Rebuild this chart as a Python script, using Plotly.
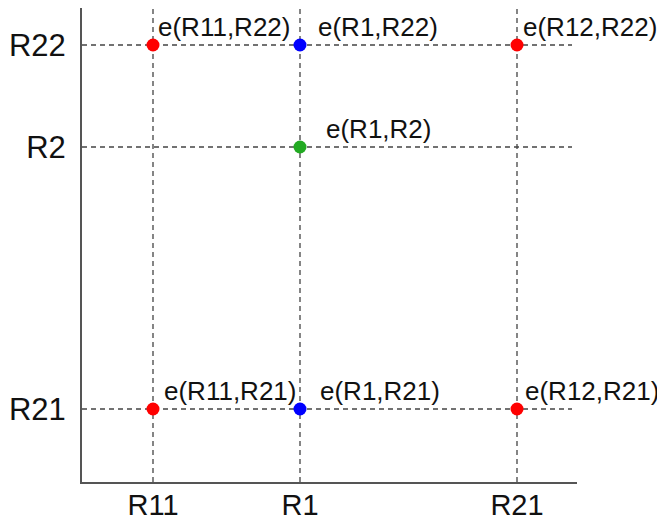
import plotly.graph_objects as go

# Tick categories and their positions on the axes
x_labels = ["R11", "R1", "R21"]
x_pos = [71, 218, 435]
y_labels = ["R21", "R2", "R22"]
y_pos = [73, 335, 437]

# Points
pt_x = [71, 218, 435, 218, 71, 218, 435]
pt_y = [437, 437, 437, 335, 73, 73, 73]
pt_text = ["e(R11,R22)", "e(R1,R22)", "e(R12,R22)", "e(R1,R2)",
           "e(R11,R21)", "e(R1,R21)", "e(R12,R21)"]
pt_color = ["#ff0000", "#0000ff", "#ff0000", "#22aa22",
            "#ff0000", "#0000ff", "#ff0000"]
label_dx = [3, 16, 4, 24, 9, 18, 6]

X_MAX = 495
Y_MAX = 474
H_END = 490

fig = go.Figure()

# dashed guide lines
for xv in x_pos:
    fig.add_trace(go.Scatter(x=[xv, xv], y=[0, Y_MAX], mode="lines",
                             line=dict(color="#444444", width=1.3, dash="5px,4px"),
                             hoverinfo="skip", showlegend=False))
for yv in y_pos:
    fig.add_trace(go.Scatter(x=[0, H_END], y=[yv, yv], mode="lines",
                             line=dict(color="#444444", width=1.3, dash="5px,4px"),
                             hoverinfo="skip", showlegend=False))

fig.add_trace(go.Scatter(x=pt_x, y=pt_y, mode="markers",
                         marker=dict(color=pt_color, size=13, line=dict(width=0)),
                         showlegend=False))

for x, y, t, dx in zip(pt_x, pt_y, pt_text, label_dx):
    fig.add_annotation(x=x, y=y, text=t, showarrow=False, xanchor="left",
                       yanchor="middle", xshift=dx, yshift=18,
                       font=dict(family="Liberation Sans, Arial", size=26, color="#111111"))

fig.update_xaxes(range=[0, X_MAX], tickvals=x_pos, ticktext=x_labels,
                 showgrid=False, zeroline=False, showline=True, automargin=False,
                 linecolor="#555555", linewidth=2, ticks="", ticklen=0, ticklabelstandoff=-4,
                 tickfont=dict(family="Liberation Sans, Arial", size=29, color="#111111"))
fig.update_yaxes(range=[0, Y_MAX], tickvals=y_pos, ticktext=y_labels,
                 showgrid=False, zeroline=False, showline=True, automargin=False,
                 linecolor="#555555", linewidth=2, ticks="", ticklabelstandoff=8,
                 tickfont=dict(family="Liberation Sans, Arial", size=31, color="#111111"))

fig.update_layout(width=657, height=516,
                  margin=dict(l=74, r=88, t=0, b=42, pad=0),
                  plot_bgcolor="white", paper_bgcolor="white")

fig.write_html("out.html")
